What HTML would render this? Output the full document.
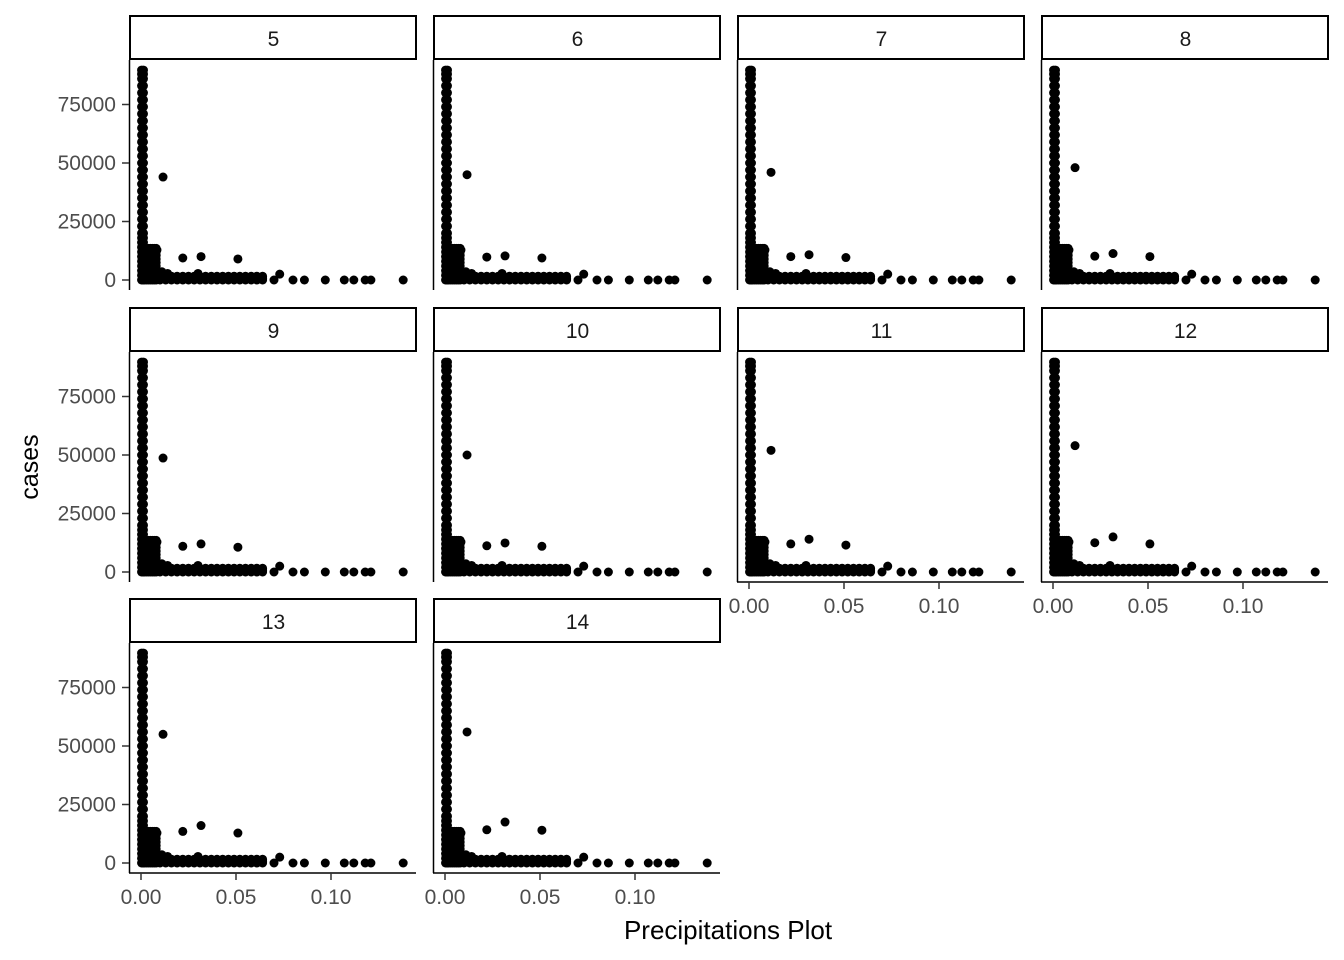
<!DOCTYPE html>
<html><head><meta charset="utf-8"><style>
html,body{margin:0;padding:0;background:#fff;}
svg{display:block;font-family:"Liberation Sans",sans-serif;}
</style></head><body>
<svg id="chart" width="1344" height="960"></svg>
<script>
const panelLabels = ["5","6","7","8","9","10","11","12","13","14"];
const bigOutlier = [44000,45000,46000,48000,48700,50000,52000,54000,55000,56000];
const midA = [9400,9800,10000,10200,11000,11200,12000,12500,13500,14200];
const midB = [10000,10300,10800,11300,12000,12400,14000,15000,16000,17500];
const midC = [9000,9400,9600,10000,10600,11000,11500,12000,12800,14000];
const yTicks = [0,25000,50000,75000];
const xTicks = [0,0.05,0.10];
const xTickLabels = ["0.00","0.05","0.10"];
const columnY = [0,2000,4000,6000,8000,10000,12000,14000,16000,18000,20000,23000,26000,29000,32000,35000,38000,41000,44000,47000,50000,53000,56000,59000,62000,65000,68000,71000,74000,77000,80000,83000,86000,88000,89700];
const columnX = [0.0003,0.0013];
const blobX = [0.001,0.002,0.003,0.004,0.005,0.006,0.007,0.008];
const blobY = [0,1500,3000,4500,6000,7500,9000,10500,12000,13500];
const bandX = [0.010,0.013,0.016,0.019,0.022,0.025,0.028,0.031,0.034,0.037,0.040,0.043,0.046,0.049,0.052,0.055,0.058,0.061,0.064];
const bandY = [0,800,1600];
const extraX = [0.0084,0.011,0.014,0.030,0.049,0.073,0.070,0.080,0.086,0.097,0.107,0.112,0.118,0.121,0.138];
const extraY = [12800,3500,2800,2800,1500,2500,0,0,0,0,0,0,0,0,0];

const NS="http://www.w3.org/2000/svg";
const svg=document.getElementById('chart');
function mk(tag,attrs,parent){const e=document.createElementNS(NS,tag);for(const k in attrs)e.setAttribute(k,attrs[k]);(parent||svg).appendChild(e);return e;}

const colX=[129,433,737,1041], rowY=[15,307,598];
const stripH=44, plotTop=45, plotH=230, panelW=287;

panelLabels.forEach((lab,i)=>{
  const c=i%4, r=Math.floor(i/4);
  const x0=colX[c], y0=rowY[r];
  const g=mk('g',{});
  
  
  const strip=mk('rect',{x:x0+1,y:y0+1,width:panelW-1,height:stripH-1,fill:'#fff',stroke:'#000','stroke-width':2},g);
  
  
  const st=mk('text',{x:x0+panelW/2+1,y:y0+31,'text-anchor':'middle','font-size':21,fill:'#1a1a1a'},g);
  st.textContent=lab;
  
  
  const zeroY=y0+265;
  const sy=v=>zeroY-v*0.00234;
  const sx=v=>x0+12+v*1900;
  const ya=mk('line',{x1:x0+0.5,x2:x0+0.5,y1:y0+plotTop,y2:y0+plotTop+plotH,stroke:'#000','stroke-width':1.5},g);
  
  
  if(c===0){
    yTicks.forEach(t=>{
      mk('line',{x1:x0-7,x2:x0,y1:sy(t),y2:sy(t),stroke:'#333','stroke-width':1.5},g);
      const tl=mk('text',{x:x0-13,y:sy(t)+7,'text-anchor':'end','font-size':21,fill:'#4d4d4d'},g);
      tl.textContent=t;
      
      
    });
  }
  const bottom = (r===2) || (r===1 && c>=2);
  if(bottom){
    const ay=y0+plotTop+plotH;
    const xa=mk('line',{x1:x0,x2:x0+panelW,y1:ay,y2:ay,stroke:'#000','stroke-width':1.5},g);
    
    
    xTicks.forEach((t,k)=>{
      mk('line',{x1:sx(t),x2:sx(t),y1:ay,y2:ay+7,stroke:'#333','stroke-width':1.5},g);
      const tl=mk('text',{x:sx(t),y:ay+31,'text-anchor':'middle','font-size':21,fill:'#4d4d4d'},g);
      tl.textContent=xTickLabels[k];
      
      
    });
  }
  const pts=[];
  columnX.forEach(x=>columnY.forEach(y=>pts.push([x,y])));
  blobX.forEach(x=>blobY.forEach(y=>pts.push([x,y])));
  bandX.forEach(x=>bandY.forEach(y=>pts.push([x,y])));
  extraX.forEach((x,k)=>pts.push([x,extraY[k]]));
  pts.push([0.0116,bigOutlier[i]]);
  pts.push([0.022,midA[i]]);
  pts.push([0.0316,midB[i]]);
  pts.push([0.051,midC[i]]);
  pts.forEach(p=>{
    const d=mk('circle',{cx:sx(p[0]),cy:sy(p[1]),r:4.5,fill:'#000'},g);
    
    
  });
});
const yt=mk('text',{x:0,y:0,transform:'translate(38,467) rotate(-90)','text-anchor':'middle','font-size':25,fill:'#000'});
yt.textContent='cases';


const xt=mk('text',{x:728,y:939,'text-anchor':'middle','font-size':26,fill:'#000'});
xt.textContent='Precipitations Plot';


</script>
</body></html>
